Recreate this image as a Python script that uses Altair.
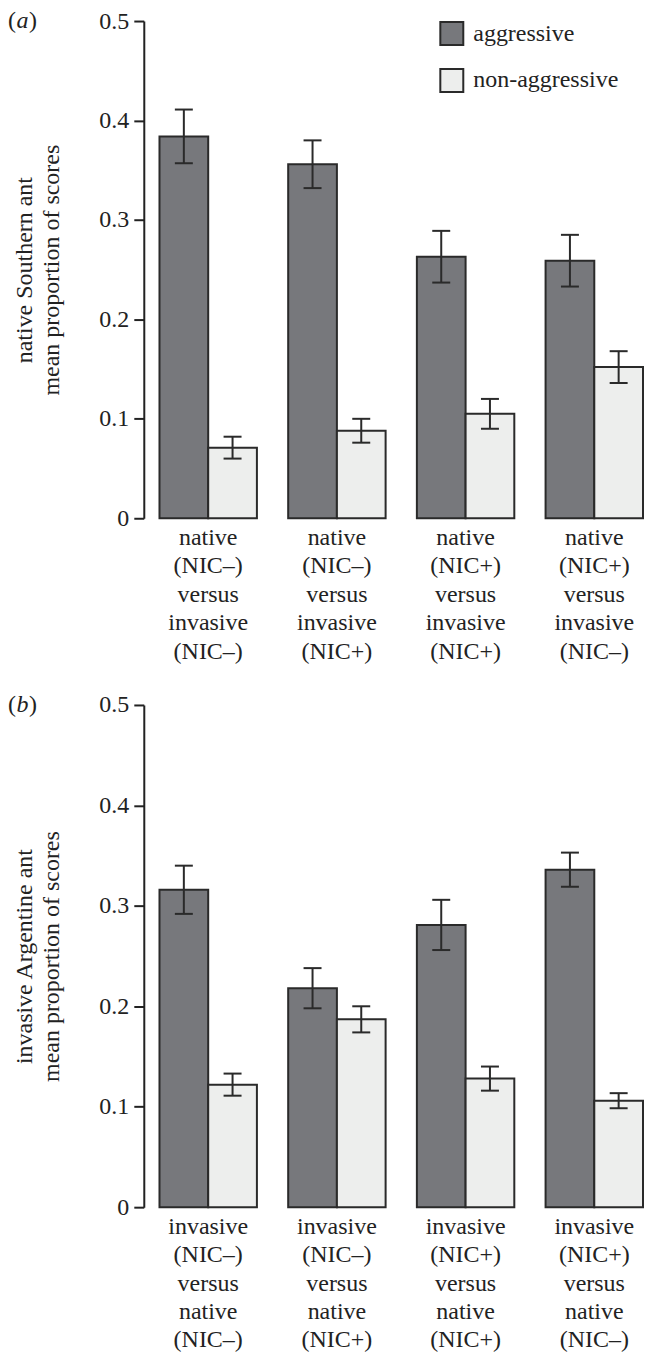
import altair as alt
import pandas as pd

FONT = "Liberation Serif"
DARK = "#77787c"
LIGHT = "#edeeed"
EDGE = "#2a2a2a"
TEXT = "#222222"

series = ["aggressive", "non-aggressive"]

a_categories = [
    "native (NIC–) versus invasive (NIC–)",
    "native (NIC–) versus invasive (NIC+)",
    "native (NIC+) versus invasive (NIC+)",
    "native (NIC+) versus invasive (NIC–)",
]
a_aggressive = [0.384, 0.356, 0.263, 0.259]
a_aggressive_se = [0.027, 0.024, 0.026, 0.026]
a_nonaggressive = [0.071, 0.088, 0.105, 0.152]
a_nonaggressive_se = [0.011, 0.012, 0.015, 0.016]

b_categories = [
    "invasive (NIC–) versus native (NIC–)",
    "invasive (NIC–) versus native (NIC+)",
    "invasive (NIC+) versus native (NIC+)",
    "invasive (NIC+) versus native (NIC–)",
]
b_aggressive = [0.316, 0.218, 0.281, 0.336]
b_aggressive_se = [0.024, 0.020, 0.025, 0.017]
b_nonaggressive = [0.122, 0.187, 0.128, 0.106]
b_nonaggressive_se = [0.011, 0.013, 0.012, 0.0075]

y_ticks = [0, 0.1, 0.2, 0.3, 0.4, 0.5]


def make_df(cats, agg, agg_se, non, non_se):
    rows = []
    for c, m, s in zip(cats, agg, agg_se):
        rows.append({"pair": c, "behaviour": series[0], "mean": m, "lo": m - s, "hi": m + s})
    for c, m, s in zip(cats, non, non_se):
        rows.append({"pair": c, "behaviour": series[1], "mean": m, "lo": m - s, "hi": m + s})
    return pd.DataFrame(rows)


def panel(df, cats, ytitle, letter, show_legend, height):
    xscale = alt.Scale(paddingInner=0.243, paddingOuter=0.061, align=1)
    x = alt.X(
        "pair:N", sort=cats, title=None, scale=xscale,
        axis=alt.Axis(
            labelExpr="split(datum.label, ' ')", labelAngle=0, domain=False,
            ticks=False, tickSize=0, labelPadding=7, labelFontSize=24,
            labelFont=FONT, labelColor=TEXT, labelLineHeight=28.5,
            labelBaseline="top", labelLimit=300,
        ),
    )
    xo = alt.XOffset("behaviour:N", sort=series,
                     scale=alt.Scale(paddingInner=0, paddingOuter=0))
    y = alt.Y(
        "mean:Q",
        scale=alt.Scale(domain=[0, 0.5], nice=False, zero=True),
        axis=alt.Axis(
            values=y_ticks, format=".1~f", grid=False,
            domainColor=TEXT, domainWidth=2, tickColor=TEXT, tickWidth=2,
            tickSize=10, labelPadding=5, labelFontSize=24, labelFont=FONT,
            labelColor=TEXT, title=ytitle, titleFont=FONT, titleFontSize=24,
            titleFontWeight="normal", titleColor=TEXT, titleLineHeight=27,
            titleBaseline="bottom", titleX=-107, titleY=height / 2,
            titleAngle=270, titleAlign="center",
        ),
    )
    if show_legend:
        legend = alt.Legend(
            title=None, orient="none", legendX=296, legendY=0,
            symbolType="square", symbolSize=529, symbolStrokeColor=EDGE,
            symbolStrokeWidth=2, labelFont=FONT, labelFontSize=24,
            labelColor=TEXT, rowPadding=16, labelOffset=9, padding=0,
        )
    else:
        legend = None
    color = alt.Color("behaviour:N", sort=series,
                      scale=alt.Scale(domain=series, range=[DARK, LIGHT]),
                      legend=legend)

    base = alt.Chart(df)
    bars = base.mark_bar(stroke=EDGE, strokeWidth=2).encode(
        x=x, xOffset=xo, y=y, color=color)
    xs = alt.X("pair:N", sort=cats, scale=xscale, title=None)
    rules = base.mark_rule(color=EDGE, strokeWidth=2).encode(
        x=xs, xOffset=xo, y="lo:Q", y2="hi:Q")
    cap_hi = base.mark_tick(color=EDGE, thickness=2, size=18, opacity=1).encode(
        x=xs, xOffset=xo, y="hi:Q")
    cap_lo = base.mark_tick(color=EDGE, thickness=2, size=18, opacity=1).encode(
        x=xs, xOffset=xo, y="lo:Q")

    lab = alt.Chart(pd.DataFrame({"lab": [letter]}))
    p1 = lab.mark_text(font=FONT, fontSize=24, color=TEXT, align="left",
                       baseline="middle").encode(
        x=alt.value(-136), y=alt.value(0), text=alt.value("("))
    p2 = lab.mark_text(font=FONT, fontSize=24, color=TEXT, align="left",
                       baseline="middle", fontStyle="italic").encode(
        x=alt.value(-127.5), y=alt.value(0), text="lab:N")
    p3 = lab.mark_text(font=FONT, fontSize=24, color=TEXT, align="left",
                       baseline="middle").encode(
        x=alt.value(-115), y=alt.value(0), text=alt.value(")"))

    return alt.layer(bars, rules, cap_hi, cap_lo, p1, p2, p3).properties(
        width=500, height=height)


df_a = make_df(a_categories, a_aggressive, a_aggressive_se,
               a_nonaggressive, a_nonaggressive_se)
df_b = make_df(b_categories, b_aggressive, b_aggressive_se,
               b_nonaggressive, b_nonaggressive_se)

chart_a = panel(df_a, a_categories, ["native Southern ant", "mean proportion of scores"],
                "a", True, 498)
chart_b = panel(df_b, b_categories, ["invasive Argentine ant", "mean proportion of scores"],
                "b", False, 503)

chart = alt.vconcat(chart_a, chart_b, spacing=30).resolve_scale(
    color="independent", x="independent", xOffset="independent"
).properties(padding=0).configure_view(stroke=None)

chart.save("out.html", embed_options={"renderer": "svg", "actions": False})
